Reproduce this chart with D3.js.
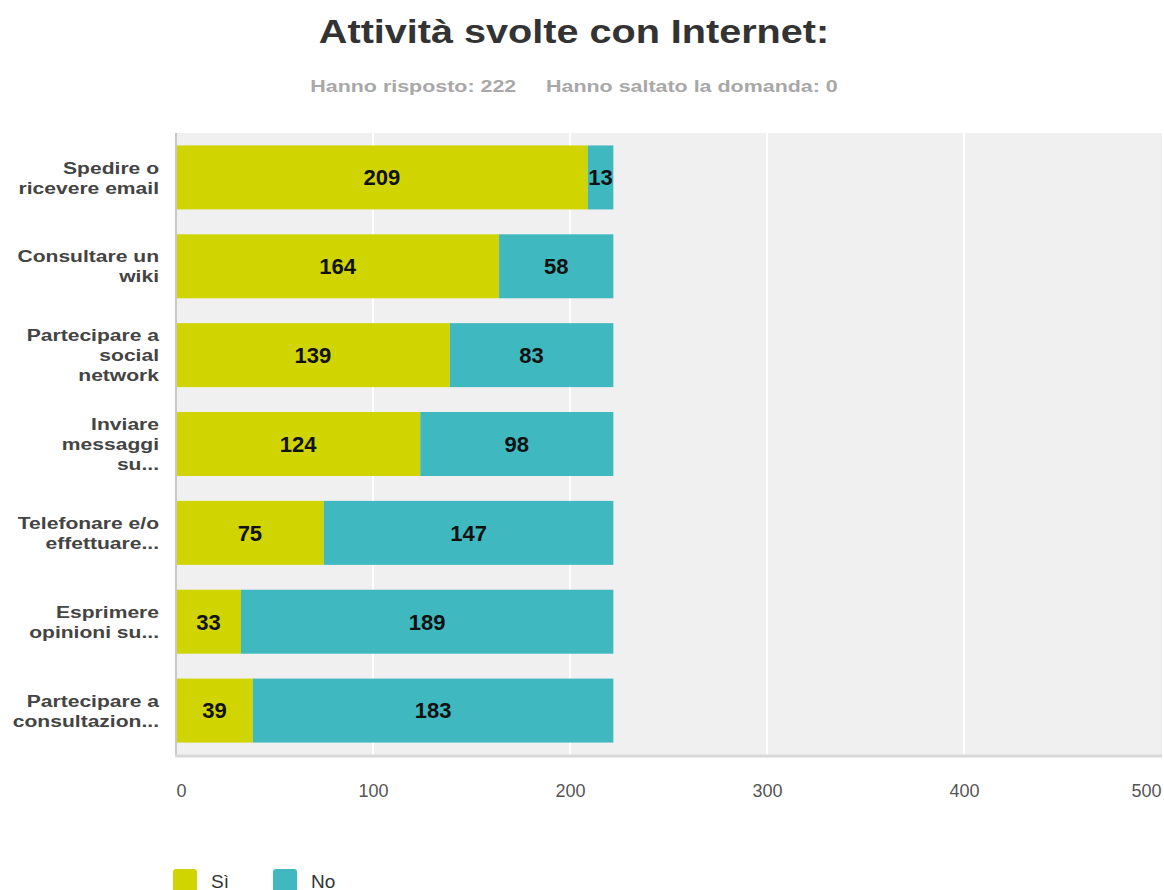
<!DOCTYPE html>
<html>
<head>
<meta charset="utf-8">
<script src="https://cdn.jsdelivr.net/npm/d3@7"></script>
<style>
  body { margin: 0; background: #fff; }
  text { font-family: "Liberation Sans", Arial, sans-serif; }
</style>
</head>
<body>
<script>
var categories = [
  ["Spedire o", "ricevere email"],
  ["Consultare un", "wiki"],
  ["Partecipare a", "social", "network"],
  ["Inviare", "messaggi", "su..."],
  ["Telefonare e/o", "effettuare..."],
  ["Esprimere", "opinioni su..."],
  ["Partecipare a", "consultazion..."]
];
var siValues = [209, 164, 139, 124, 75, 33, 39];
var noValues = [13, 58, 83, 98, 147, 189, 183];
var seriesNames = ["Sì", "No"];
var seriesColors = ["#d0d400", "#40b8c0"];
var xTicks = [0, 100, 200, 300, 400, 500];

var svgWidth = 1164, svgHeight = 890;
var margin = {top: 133, right: 2, bottom: 135, left: 176};
var width = svgWidth - margin.left - margin.right;
var height = svgHeight - margin.top - margin.bottom;

var svg = d3.select("body").append("svg").attr("width", svgWidth).attr("height", svgHeight);

// title (the original text is drawn wider than the font, hence scale)
svg.append("text")
  .attr("transform", "translate(574,43) scale(1.2,1)")
  .attr("text-anchor", "middle")
  .style("font-size", "33px").style("font-weight", "bold").style("fill", "#333")
  .text("Attività svolte con Internet:");
svg.append("text")
  .attr("transform", "translate(574,92) scale(1.34,1)")
  .attr("text-anchor", "middle")
  .style("font-size", "16px").style("font-weight", "bold").style("fill", "#a8a8a8")
  .attr("xml:space", "preserve")
  .text("Hanno risposto: 222     Hanno saltato la domanda: 0");

var chart = svg.append("g").attr("transform", `translate(${margin.left},${margin.top})`);

var x = d3.scaleLinear().domain([0, 500]).range([0, width - 1]);
var y = d3.scaleBand().domain(d3.range(categories.length)).range([0, height]).paddingInner(0.28).paddingOuter(0.14);

// background
chart.append("rect").attr("x", 0).attr("y", 0).attr("width", width).attr("height", height).attr("fill", "#f0f0f0");

// grid
chart.selectAll(".grid")
  .data(xTicks.slice(1, -1))
  .enter().append("line")
  .attr("x1", function(d) { return x(d); }).attr("x2", function(d) { return x(d); })
  .attr("y1", 0).attr("y2", height)
  .attr("stroke", "#fff").attr("stroke-width", 2);

// bars
var stackData = categories.map(function(c, i) { return {i: i, si: siValues[i], no: noValues[i]}; });
var rows = chart.selectAll(".row").data(stackData).enter().append("g")
  .attr("transform", function(d) { return "translate(0," + y(d.i) + ")"; });

rows.append("rect")
  .attr("x", x(0)).attr("width", function(d) { return x(d.si) - x(0); })
  .attr("height", y.bandwidth()).attr("fill", seriesColors[0]);
rows.append("rect")
  .attr("x", function(d) { return x(d.si); }).attr("width", function(d) { return x(d.si + d.no) - x(d.si); })
  .attr("height", y.bandwidth()).attr("fill", seriesColors[1]);

rows.append("text")
  .attr("x", function(d) { return (x(0) + x(d.si)) / 2; })
  .attr("y", y.bandwidth() / 2).attr("dy", "0.36em")
  .attr("text-anchor", "middle")
  .style("font-size", "22px").style("font-weight", "bold").style("fill", "#111")
  .text(function(d) { return d.si; });
rows.append("text")
  .attr("x", function(d) { return (x(d.si) + x(d.si + d.no)) / 2; })
  .attr("y", y.bandwidth() / 2).attr("dy", "0.36em")
  .attr("text-anchor", "middle")
  .style("font-size", "22px").style("font-weight", "bold").style("fill", "#111")
  .text(function(d) { return d.no; });

// axis lines
chart.append("line").attr("x1", 0).attr("x2", 0).attr("y1", 0).attr("y2", height)
  .attr("stroke", "#c8c8c8").attr("stroke-width", 2);
chart.append("line").attr("x1", -1).attr("x2", width).attr("y1", height + 1).attr("y2", height + 1)
  .attr("stroke", "#d8d8d8").attr("stroke-width", 3);

// category labels
var catLabels = chart.selectAll(".cat").data(categories).enter().append("text")
  .attr("text-anchor", "end")
  .style("font-size", "17px").style("font-weight", "bold").style("fill", "#444")
  .attr("transform", function(d, i) {
    var cy = y(i) + y.bandwidth() / 2 - (d.length - 1) * 20 / 2;
    return "translate(-17," + cy + ") scale(1.24,1)";
  });
catLabels.selectAll("tspan").data(function(d) { return d; }).enter().append("tspan")
  .attr("x", 0).attr("dy", function(d, j) { return j === 0 ? "0.36em" : "20px"; })
  .text(function(d) { return d; });

// x axis
var xAxis = d3.axisBottom(x).tickValues(xTicks).tickSize(0).tickPadding(0);
var gx = chart.append("g").attr("transform", "translate(0," + (height + 29) + ")").call(xAxis);
gx.select(".domain").remove();
gx.selectAll("text")
  .style("font-family", "'Liberation Sans', Arial, sans-serif")
  .style("font-size", "18px").style("fill", "#555")
  .attr("text-anchor", function(d) { return d === 0 ? "start" : (d === 500 ? "end" : "middle"); });

// legend
var legend = svg.selectAll(".legend").data(seriesNames).enter().append("g")
  .attr("transform", function(d, i) { return "translate(" + (173 + i * 100) + ",869)"; });
legend.append("rect").attr("width", 24).attr("height", 24).attr("rx", 3).attr("fill", function(d, i) { return seriesColors[i]; });
legend.append("text").attr("x", 38).attr("y", 19)
  .style("font-size", "19px").style("fill", "#333")
  .text(function(d) { return d; });
</script>
</body>
</html>
